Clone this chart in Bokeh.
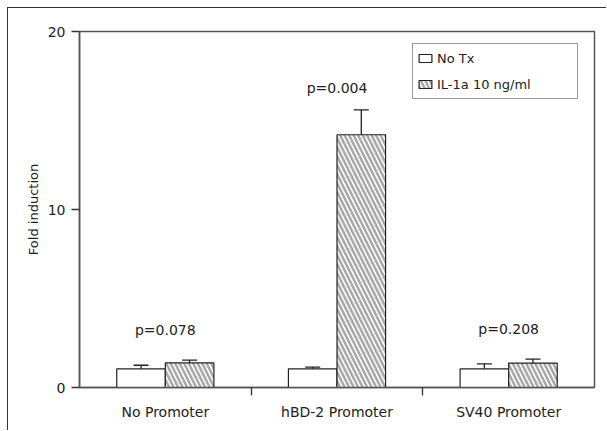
from bokeh.plotting import figure
from bokeh.models import (Range1d, FixedTicker, Legend, LegendItem, Whisker, TeeHead,
                          ColumnDataSource)
from bokeh.embed import file_html
from bokeh.resources import INLINE
from bokeh.core.properties import value

# ---- data ----
groups = ["No Promoter", "hBD-2 Promoter", "SV40 Promoter"]
no_tx = [1.05, 1.05, 1.05]
no_tx_err = [0.2, 0.1, 0.28]
il1a = [1.38, 14.2, 1.37]
il1a_err = [0.16, 1.4, 0.22]
p_labels = ["p=0.078", "p=0.004", "p=0.208"]
p_label_y = [3.25, 16.85, 3.3]
y_ticks = [0, 10, 20]

FONT = "DejaVu Sans"
TXT = "#222222"
AX = "#555555"

idx = list(range(len(groups)))
centers = [i + 0.5 for i in idx]
bounds = [i for i in idx[1:]]
bar_w = 0.283
x_no = [c - bar_w / 2 for c in centers]
x_il = [c + bar_w / 2 for c in centers]

p = figure(width=599, height=423, x_range=Range1d(0, len(groups)), y_range=Range1d(0, 20),
           output_backend="svg", toolbar_location=None,
           min_border_left=71, min_border_right=13, min_border_top=23, min_border_bottom=44)
p.margin = (7, 0, 0, 7)
p.styles = {"border-top-width": "1px", "border-top-style": "solid", "border-top-color": "#333",
            "border-left-width": "1px", "border-left-style": "solid", "border-left-color": "#333"}
p.grid.visible = False
p.outline_line_color = AX
p.outline_line_width = 1.5
p.background_fill_color = "white"
p.border_fill_color = "white"

# x axis
xa = p.xaxis[0]
xa.ticker = FixedTicker(ticks=centers, minor_ticks=bounds)
xa.major_label_overrides = {c: g for c, g in zip(centers, groups)}
xa.major_tick_out = 0
xa.major_tick_in = 0
xa.minor_tick_out = 8
xa.minor_tick_in = 0
xa.minor_tick_line_color = "#333333"
xa.minor_tick_line_width = 1.3
xa.axis_line_color = AX
xa.axis_line_width = 1.5
xa.major_label_standoff = 8
xa.major_label_text_font = FONT
xa.major_label_text_font_size = "14px"
xa.major_label_text_color = TXT

# y axis
ya = p.yaxis[0]
ya.ticker = FixedTicker(ticks=y_ticks)
ya.major_tick_out = 8
ya.major_tick_in = 0
ya.minor_tick_out = 0
ya.minor_tick_in = 0
ya.major_tick_line_color = "#333333"
ya.major_tick_line_width = 1.3
ya.axis_line_color = AX
ya.axis_line_width = 1.5
ya.major_label_standoff = 6
ya.major_label_text_font = FONT
ya.major_label_text_font_size = "14px"
ya.major_label_text_color = TXT
ya.axis_label = "Fold induction"
ya.axis_label_text_font = FONT
ya.axis_label_text_font_style = "normal"
ya.axis_label_text_font_size = "13px"
ya.axis_label_text_color = TXT
ya.axis_label_standoff = 4

# bars
r1 = p.vbar(x=x_no, top=no_tx, bottom=0, width=bar_w, fill_color="white",
            line_color="#222222", line_width=1.2)
r2 = p.vbar(x=x_il, top=il1a, bottom=0, width=bar_w, fill_color="white",
            line_color="#222222", line_width=1.2,
            hatch_pattern="\\", hatch_color="#a8a8a8", hatch_weight=2.5, hatch_scale=9)

# error bars (upper only)
for xs, ys, es in ((x_no, no_tx, no_tx_err), (x_il, il1a, il1a_err)):
    src = ColumnDataSource(dict(x=xs, lo=ys, hi=[a + b for a, b in zip(ys, es)]))
    w = Whisker(source=src, base="x", lower="lo", upper="hi", dimension="height",
                lower_head=None,
                upper_head=TeeHead(size=15, line_color="#222222", line_width=1.3),
                line_color="#222222", line_width=1.3)
    p.add_layout(w)

# p-value labels
p.text(x=centers, y=p_label_y, text=p_labels, text_align="center", text_baseline="middle",
       text_font=value(FONT), text_font_size="14px", text_color=TXT)

legend = Legend(items=[LegendItem(label="No Tx", renderers=[r1]),
                       LegendItem(label="IL-1a 10 ng/ml", renderers=[r2])],
                location=(333, 288))
legend.border_line_color = "#333333"
legend.border_line_width = 1.2
legend.background_fill_color = "white"
legend.background_fill_alpha = 1
legend.label_text_font = FONT
legend.label_text_font_size = "13px"
legend.label_text_color = TXT
legend.glyph_width = 16
legend.glyph_height = 10
legend.label_standoff = 4
legend.padding = 4
legend.spacing = 6
legend.label_height = 20
legend.label_width = 136
p.add_layout(legend)

open("out.html", "w").write(file_html(p, INLINE))
